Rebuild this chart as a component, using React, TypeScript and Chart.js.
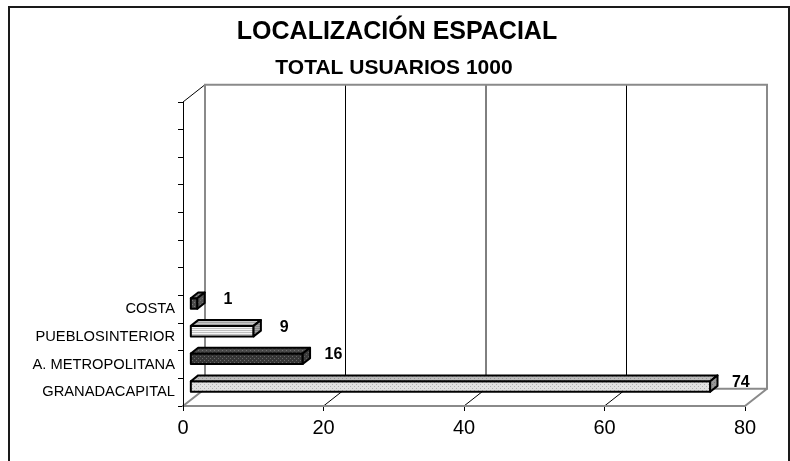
import { useEffect, useRef } from 'react';
import { Chart, registerables } from 'chart.js';

Chart.register(...registerables);

const categories = ['GRANADACAPITAL', 'A. METROPOLITANA', 'PUEBLOSINTERIOR', 'COSTA'];
const values = [74, 16, 9, 1];
const emptySlots = ['', '', '', '', '', '', ''];
const xMin = 0;
const xMax = 80;
const xStep = 20;
const titleText = 'LOCALIZACIÓN ESPACIAL';
const subtitleText = 'TOTAL USUARIOS 1000';

const FONT = '"Liberation Sans", Arial, Helvetica, sans-serif';
const DEPTH = { x: 22, y: -17.3 };

type Face = { bg: string; fg: string; kind: 'dots' | 'lines' };
type BarStyle = { front: Face; top: Face; side: Face };

const barStyles: BarStyle[] = [
  {
    front: { bg: '#e2e2e2', fg: '#b0b0b0', kind: 'dots' },
    top: { bg: '#bcbcbc', fg: '#949494', kind: 'dots' },
    side: { bg: '#989898', fg: '#787878', kind: 'dots' },
  },
  {
    front: { bg: '#363636', fg: '#686868', kind: 'dots' },
    top: { bg: '#484848', fg: '#747474', kind: 'dots' },
    side: { bg: '#3a3a3a', fg: '#5e5e5e', kind: 'dots' },
  },
  {
    front: { bg: '#f6f6f6', fg: '#c0c0c0', kind: 'lines' },
    top: { bg: '#c6c6c6', fg: '#a2a2a2', kind: 'lines' },
    side: { bg: '#a4a4a4', fg: '#848484', kind: 'lines' },
  },
  {
    front: { bg: '#4a4a4a', fg: '#787878', kind: 'dots' },
    top: { bg: '#6a6a6a', fg: '#8c8c8c', kind: 'dots' },
    side: { bg: '#545454', fg: '#727272', kind: 'dots' },
  },
];

function makePattern(ctx: CanvasRenderingContext2D, f: Face): CanvasPattern | string {
  const c = document.createElement('canvas');
  c.width = 4;
  c.height = 4;
  const p = c.getContext('2d');
  if (!p) return f.bg;
  p.fillStyle = f.bg;
  p.fillRect(0, 0, 4, 4);
  p.fillStyle = f.fg;
  if (f.kind === 'dots') {
    p.fillRect(0, 0, 1, 1);
    p.fillRect(2, 2, 1, 1);
  } else {
    p.fillRect(0, 0, 4, 1);
    p.fillRect(0, 2, 4, 1);
  }
  return ctx.createPattern(c, 'repeat') || f.bg;
}

const threeDPlugin = {
  id: 'threeD',
  beforeDraw(chart: any) {
    const { ctx, chartArea: a, scales } = chart;
    const xs = scales.x;
    ctx.save();
    ctx.fillStyle = '#ffffff';
    ctx.fillRect(0, 0, chart.width, chart.height);

    // outer frame
    ctx.strokeStyle = '#1a1a1a';
    ctx.lineWidth = 2;
    ctx.beginPath();
    ctx.moveTo(9, chart.height + 4);
    ctx.lineTo(9, 7);
    ctx.lineTo(789, 7);
    ctx.lineTo(789, chart.height + 4);
    ctx.stroke();

    // titles
    ctx.fillStyle = '#000';
    ctx.textAlign = 'center';
    ctx.textBaseline = 'alphabetic';
    ctx.font = `bold 25px ${FONT}`;
    ctx.fillText(titleText, 397, 38.5);
    ctx.font = `bold 21px ${FONT}`;
    ctx.fillText(subtitleText, 394, 73.5);

    // back wall
    const bl = a.left + DEPTH.x;
    const br = a.right + DEPTH.x;
    const bt = a.top + DEPTH.y;
    const bb = a.bottom + DEPTH.y;

    // gridlines on back wall + floor lines
    ctx.lineWidth = 1;
    ctx.strokeStyle = '#000';
    for (let v = xMin + xStep; v < xMax; v += xStep) {
      const px = xs.getPixelForValue(v);
      ctx.beginPath();
      ctx.moveTo(px + DEPTH.x, bt);
      ctx.lineTo(px + DEPTH.x, bb);
      ctx.moveTo(px, a.bottom);
      ctx.lineTo(px + DEPTH.x, bb);
      ctx.stroke();
    }
    // top-left diagonal
    ctx.beginPath();
    ctx.moveTo(a.left, a.top);
    ctx.lineTo(bl, bt);
    ctx.stroke();

    ctx.strokeStyle = '#8a8a8a';
    ctx.lineWidth = 2;
    ctx.beginPath();
    ctx.rect(bl, bt, br - bl, bb - bt);
    ctx.moveTo(a.left, a.bottom);
    ctx.lineTo(bl, bb);
    ctx.moveTo(a.right, a.bottom);
    ctx.lineTo(br, bb);
    ctx.stroke();
    ctx.restore();
  },
  afterDatasetsDraw(chart: any) {
    const { ctx } = chart;
    const meta = chart.getDatasetMeta(0);
    const fx = DEPTH.x / 3;
    const fy = DEPTH.y / 3;
    ctx.save();
    meta.data.forEach((el: any, i: number) => {
      const v = values[i];
      if (v === undefined || v === null) return;
      const { x, y, base, height } = el.getProps(['x', 'y', 'base', 'height'], true);
      const st = barStyles[i % barStyles.length];
      const x0 = base + fx;
      const x1 = x + fx;
      const t = y - height / 2 + fy;
      const b = y + height / 2 + fy;
      ctx.lineJoin = 'round';
      ctx.lineWidth = 2;
      ctx.strokeStyle = '#000';
      // front
      ctx.fillStyle = makePattern(ctx, st.front);
      ctx.beginPath();
      ctx.rect(x0, t, x1 - x0, b - t);
      ctx.fill();
      ctx.stroke();
      // top
      ctx.fillStyle = makePattern(ctx, st.top);
      ctx.beginPath();
      ctx.moveTo(x0, t);
      ctx.lineTo(x0 + fx, t + fy);
      ctx.lineTo(x1 + fx, t + fy);
      ctx.lineTo(x1, t);
      ctx.closePath();
      ctx.fill();
      ctx.stroke();
      // side
      ctx.fillStyle = makePattern(ctx, st.side);
      ctx.beginPath();
      ctx.moveTo(x1, t);
      ctx.lineTo(x1 + fx, t + fy);
      ctx.lineTo(x1 + fx, b + fy);
      ctx.lineTo(x1, b);
      ctx.closePath();
      ctx.fill();
      ctx.stroke();

      // value label
      ctx.fillStyle = '#000';
      ctx.font = `bold 16px ${FONT}`;
      ctx.textAlign = 'center';
      ctx.textBaseline = 'alphabetic';
      ctx.fillText(String(v), x + 38, y - 5.3);
    });
    ctx.restore();
  },
};

export default function App() {
  const ref = useRef<HTMLCanvasElement>(null);

  useEffect(() => {
    document.body.style.margin = '0';
    const canvas = ref.current;
    if (!canvas) return;
    Chart.defaults.font.family = FONT;
    const labels = [...categories, ...emptySlots];
    const data = [...values, ...emptySlots.map(() => null)];
    const chart = new Chart(canvas, {
      type: 'bar',
      data: {
        labels,
        datasets: [
          {
            data,
            backgroundColor: 'rgba(0,0,0,0)',
            borderWidth: 0,
            barPercentage: 0.38,
            categoryPercentage: 1,
          },
        ],
      },
      options: {
        indexAxis: 'y',
        animation: false,
        responsive: false,
        events: [],
        layout: { padding: { top: 102, right: 45, left: 0, bottom: 0 } },
        plugins: {
          legend: { display: false },
          tooltip: { enabled: false },
          title: { display: false },
        },
        scales: {
          x: {
            type: 'linear',
            min: xMin,
            max: xMax,
            ticks: {
              stepSize: xStep,
              font: { size: 20, family: FONT },
              color: '#000',
              padding: 5,
            },
            grid: { drawOnChartArea: false, drawTicks: true, tickLength: 5, color: '#000' },
            border: { display: true, color: '#8a8a8a', width: 2 },
            afterFit: (s: any) => {
              s.height = 55;
            },
          },
          y: {
            type: 'category',
            reverse: true,
            ticks: {
              font: { size: 14.7, family: FONT },
              color: '#000',
              padding: 3,
              autoSkip: false,
            },
            grid: { offset: true, drawOnChartArea: false, drawTicks: true, tickLength: 5, color: '#000' },
            border: { display: true, color: '#000', width: 1 },
            afterFit: (s: any) => {
              s.width = 183;
            },
          },
        },
      } as any,
      plugins: [threeDPlugin],
    });
    return () => chart.destroy();
  }, []);

  return <canvas ref={ref} width={790} height={461} style={{ display: 'block' }} />;
}
